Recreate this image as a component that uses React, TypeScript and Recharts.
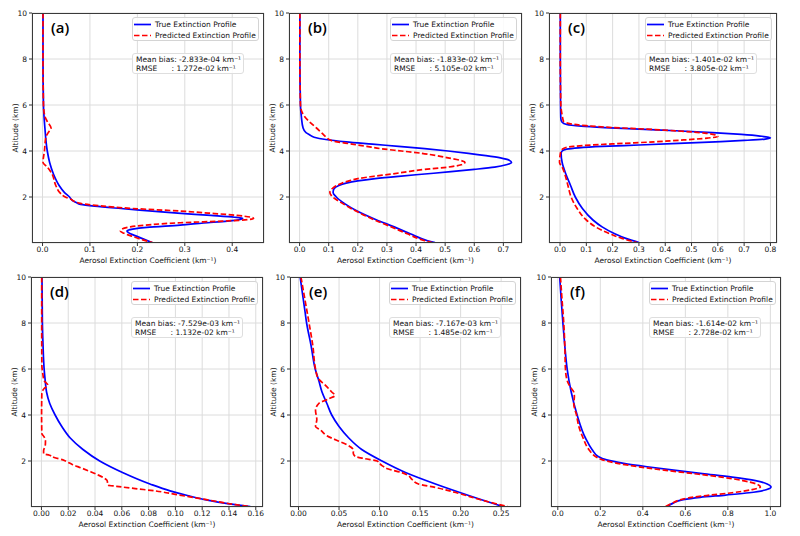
import React from "react";
import { LineChart, Line, XAxis, YAxis, CartesianGrid } from "recharts";

// each profile point is [altitude (km), extinction (km^-1)], top of the column first
type Pt = [number, number];

const trueA: Pt[] = [
  [10, 0.001], [8, 0.001], [6, 0.002], [5, 0.005], [4, 0.01], [3.5, 0.015], [3, 0.023],
  [2.5, 0.035], [2.2, 0.046], [2.0, 0.057], [1.85, 0.063], [1.75, 0.072], [1.68, 0.08],
  [1.6, 0.11], [1.5, 0.165], [1.4, 0.225], [1.3, 0.285], [1.2, 0.355], [1.12, 0.405],
  [1.07, 0.422], [1.02, 0.417], [0.95, 0.39], [0.87, 0.34], [0.78, 0.29], [0.68, 0.22],
  [0.6, 0.19], [0.52, 0.178], [0.44, 0.182], [0.32, 0.195], [0.18, 0.212], [0.02, 0.231],
];
const predA: Pt[] = [
  [10, 0.001], [8, 0.001], [6, 0.002], [5.5, 0.005], [5.25, 0.011], [5.0, 0.018], [4.8, 0.012],
  [4.6, 0.007], [4.0, 0.004], [3.5, 0.001], [3.3, 0.01], [3.0, 0.02], [2.5, 0.028], [2.2, 0.036],
  [2.0, 0.048], [1.9, 0.06], [1.8, 0.068], [1.72, 0.08], [1.62, 0.12], [1.5, 0.19], [1.39, 0.29],
  [1.3, 0.35], [1.2, 0.41], [1.12, 0.44], [1.07, 0.445], [1.02, 0.435], [0.96, 0.39],
  [0.88, 0.29], [0.8, 0.23], [0.7, 0.185], [0.6, 0.167], [0.52, 0.164], [0.42, 0.172],
  [0.3, 0.188], [0.16, 0.208], [0.02, 0.232],
];

const trueB: Pt[] = [
  [10, 0.001], [8, 0.001], [6, 0.003], [5.5, 0.006], [5.0, 0.012], [4.8, 0.022], [4.7, 0.035],
  [4.6, 0.05], [4.5, 0.09], [4.4, 0.16], [4.3, 0.25], [4.2, 0.34], [4.1, 0.43], [4.0, 0.51],
  [3.9, 0.58], [3.8, 0.64], [3.7, 0.69], [3.6, 0.72], [3.5, 0.728], [3.4, 0.71], [3.3, 0.67],
  [3.2, 0.6], [3.1, 0.52], [3.0, 0.43], [2.9, 0.34], [2.8, 0.26], [2.7, 0.2], [2.6, 0.16],
  [2.5, 0.135], [2.35, 0.118], [2.2, 0.115], [2.0, 0.126], [1.7, 0.156], [1.4, 0.196],
  [1.0, 0.265], [0.7, 0.325], [0.4, 0.38], [0.1, 0.44], [0.02, 0.465],
];
const predB: Pt[] = [
  [10, 0.001], [8, 0.001], [6, 0.003], [5.7, 0.008], [5.5, 0.017], [5.2, 0.04], [5.0, 0.058],
  [4.8, 0.075], [4.6, 0.092], [4.45, 0.11], [4.3, 0.18], [4.2, 0.23], [4.1, 0.28], [4.0, 0.35],
  [3.9, 0.42], [3.8, 0.47], [3.7, 0.51], [3.6, 0.55], [3.5, 0.568], [3.4, 0.555], [3.3, 0.51],
  [3.2, 0.43], [3.1, 0.37], [3.0, 0.317], [2.9, 0.255], [2.8, 0.2], [2.7, 0.17], [2.6, 0.145],
  [2.4, 0.115], [2.2, 0.104], [2.05, 0.11], [1.7, 0.15], [1.3, 0.207], [1.0, 0.258],
  [0.7, 0.315], [0.4, 0.37], [0.1, 0.43], [0.02, 0.455],
];

const trueC: Pt[] = [
  [10, 0.001], [8, 0.001], [6, 0.002], [5.4, 0.003], [5.25, 0.008], [5.15, 0.025], [5.08, 0.08],
  [5.02, 0.17], [4.95, 0.3], [4.88, 0.44], [4.8, 0.58], [4.72, 0.69], [4.65, 0.76], [4.58, 0.8],
  [4.52, 0.78], [4.46, 0.7], [4.4, 0.59], [4.33, 0.45], [4.26, 0.3], [4.2, 0.16], [4.14, 0.07],
  [4.08, 0.025], [4.0, 0.008], [3.9, 0.004], [3.5, 0.008], [3.0, 0.022], [2.5, 0.04],
  [2.0, 0.058], [1.5, 0.085], [1.0, 0.125], [0.7, 0.16], [0.4, 0.208], [0.2, 0.25], [0.02, 0.3],
];
const predC: Pt[] = [
  [10, 0.001], [8, 0.001], [6, 0.003], [5.5, 0.009], [5.3, 0.013], [5.18, 0.04], [5.1, 0.1],
  [5.02, 0.2], [4.95, 0.33], [4.87, 0.45], [4.78, 0.55], [4.7, 0.59], [4.63, 0.6], [4.56, 0.56],
  [4.48, 0.47], [4.4, 0.36], [4.33, 0.24], [4.26, 0.12], [4.2, 0.05], [4.12, 0.015],
  [4.02, 0.005], [3.8, 0.0], [3.5, -0.002], [3.3, 0.008], [3.0, 0.018], [2.5, 0.03],
  [2.0, 0.042], [1.5, 0.065], [1.0, 0.1], [0.7, 0.135], [0.4, 0.19], [0.2, 0.235], [0.02, 0.292],
];

const trueD: Pt[] = [
  [10, 0.0004], [8, 0.0007], [7, 0.0012], [6, 0.002], [5.5, 0.0028], [5, 0.0038], [4.5, 0.0062],
  [4, 0.0102], [3.5, 0.0152], [3, 0.0215], [2.5, 0.031], [2, 0.0435], [1.5, 0.0605],
  [1, 0.081], [0.7, 0.096], [0.5, 0.109], [0.3, 0.124], [0.15, 0.139], [0.02, 0.156],
];
const predD: Pt[] = [
  [10, 0.0002], [8, 0.0002], [6.2, 0.0003], [5.8, 0.001], [5.5, 0.002], [5.3, 0.0048],
  [5.15, 0.002], [4.95, 0.0003], [4, 0.0001], [3.2, 0.0003], [3.05, 0.002], [2.85, 0.003],
  [2.65, 0.0028], [2.45, 0.0016], [2.32, 0.0016], [2.25, 0.006], [2.15, 0.0095], [2.05, 0.016],
  [1.95, 0.0196], [1.85, 0.023], [1.7, 0.0296], [1.55, 0.036], [1.4, 0.042], [1.25, 0.047],
  [1.15, 0.049], [0.95, 0.0497], [0.9, 0.056], [0.8, 0.07], [0.7, 0.085], [0.55, 0.1],
  [0.4, 0.115], [0.25, 0.13], [0.1, 0.145], [0.02, 0.156],
];

const trueE: Pt[] = [
  [10, 0.002], [9.5, 0.004], [9, 0.006], [8.5, 0.008], [8, 0.01], [7, 0.0156], [6, 0.0206],
  [5.5, 0.025], [5, 0.029], [4.5, 0.035], [4, 0.041], [3.5, 0.05], [3, 0.062], [2.5, 0.078],
  [2, 0.103], [1.5, 0.132], [1.0, 0.169], [0.5, 0.21], [0.02, 0.252],
];
const predE: Pt[] = [
  [10, 0.003], [9, 0.008], [8, 0.013], [7, 0.0177], [6, 0.021], [5.6, 0.024], [5.3, 0.033],
  [5.0, 0.041], [4.85, 0.045], [4.7, 0.037], [4.5, 0.025], [4.2, 0.021], [3.8, 0.0226],
  [3.5, 0.021], [3.35, 0.027], [3.1, 0.035], [2.9, 0.047], [2.7, 0.06], [2.45, 0.068],
  [2.35, 0.0675], [2.2, 0.07], [2.1, 0.082], [2.0, 0.097], [1.9, 0.1], [1.8, 0.103],
  [1.65, 0.111], [1.5, 0.127], [1.35, 0.136], [1.2, 0.14], [1.0, 0.148], [0.85, 0.169],
  [0.6, 0.197], [0.3, 0.226], [0.02, 0.258],
];

const trueF: Pt[] = [
  [10, 0.009], [9, 0.016], [8, 0.024], [7, 0.033], [6, 0.044], [5, 0.063], [4, 0.091],
  [3, 0.13], [2.5, 0.161], [2.2, 0.19], [2.05, 0.23], [1.9, 0.31], [1.75, 0.42], [1.6, 0.545],
  [1.45, 0.68], [1.3, 0.82], [1.15, 0.93], [1.0, 0.985], [0.87, 1.003], [0.75, 0.98],
  [0.62, 0.9], [0.52, 0.79], [0.42, 0.67], [0.32, 0.59], [0.18, 0.545], [0.02, 0.514],
];
const predF: Pt[] = [
  [10, 0.0125], [9, 0.02], [8, 0.028], [7, 0.033], [6, 0.036], [5.5, 0.044], [5.2, 0.06],
  [5.0, 0.075], [4.8, 0.078], [4.5, 0.075], [4.0, 0.088], [3.5, 0.099], [3.0, 0.119],
  [2.5, 0.146], [2.2, 0.177], [2.05, 0.21], [1.9, 0.28], [1.75, 0.38], [1.6, 0.5], [1.45, 0.64],
  [1.3, 0.77], [1.15, 0.87], [1.0, 0.935], [0.87, 0.953], [0.75, 0.91], [0.62, 0.82],
  [0.52, 0.72], [0.42, 0.63], [0.3, 0.572], [0.15, 0.535], [0.02, 0.506],
];

const panelTags = ["(a)", "(b)", "(c)", "(d)", "(e)", "(f)"];
const meanBias = ["-2.833e-04", "-1.833e-02", "-1.401e-02", "-7.529e-03", "-7.167e-03", "-1.614e-02"];
const rmseVals = ["1.272e-02", "5.105e-02", "3.805e-02", "1.132e-02", "1.485e-02", "2.728e-02"];

const xTicksA = [0, 0.1, 0.2, 0.3, 0.4];
const xTicksB = [0, 0.1, 0.2, 0.3, 0.4, 0.5, 0.6, 0.7];
const xTicksC = [0, 0.1, 0.2, 0.3, 0.4, 0.5, 0.6, 0.7, 0.8];
const xTicksD = [0, 0.02, 0.04, 0.06, 0.08, 0.1, 0.12, 0.14, 0.16];
const xTicksE = [0, 0.05, 0.1, 0.15, 0.2, 0.25];
const xTicksF = [0, 0.2, 0.4, 0.6, 0.8, 1.0];
const altTicks = [2, 4, 6, 8, 10];

type Panel = {
  truth: Pt[];
  pred: Pt[];
  xTicks: number[];
  digits: number;
  xDomain: [number, number];
  left: number;
  top: number;
  width: number;
  height: number;
};

const panels: Panel[] = [
  { truth: trueA, pred: predA, xTicks: xTicksA, digits: 1, xDomain: [-0.0222, 0.467], left: 32, top: 13, width: 232, height: 230 },
  { truth: trueB, pred: predB, xTicks: xTicksB, digits: 1, xDomain: [-0.0364, 0.764], left: 289, top: 13, width: 233, height: 230 },
  { truth: trueC, pred: predC, xTicks: xTicksC, digits: 1, xDomain: [-0.042, 0.825], left: 549, top: 13, width: 228, height: 230 },
  { truth: trueD, pred: predD, xTicks: xTicksD, digits: 2, xDomain: [-0.0078, 0.1654], left: 31, top: 277, width: 232, height: 230 },
  { truth: trueE, pred: predE, xTicks: xTicksE, digits: 2, xDomain: [-0.0105, 0.2745], left: 290, top: 277, width: 231, height: 230 },
  { truth: trueF, pred: predF, xTicks: xTicksF, digits: 1, xDomain: [-0.032, 1.05], left: 551, top: 277, width: 230, height: 230 },
];

const Y_W = 32;
const PAD = 8;
const X_H = 26;
const FONT = "'DejaVu Sans', Verdana, sans-serif";
const TEXT = "#111";
const DASH = "5.5 2.5";

const toRows = (pts: Pt[]) => pts.map(([alt, v]) => ({ alt, v }));

function LegendRow({ color, dash, text }: { color: string; dash?: string; text: string }) {
  return (
    <div style={{ display: "flex", alignItems: "center", height: 11 }}>
      <svg width={22} height={11} style={{ flex: "none" }}>
        <line x1={1} y1={5.5} x2={18} y2={5.5} stroke={color} strokeWidth={1.7} strokeDasharray={dash} />
      </svg>
      <span>{text}</span>
    </div>
  );
}

function ProfilePanel({ p, idx }: { p: Panel; idx: number }) {
  const w = Y_W + p.width + PAD;
  const h = PAD + p.height + X_H;
  const legendW = 127;
  const legendLeft = Y_W + p.width - 5 - legendW;

  return (
    <div style={{ position: "absolute", left: p.left - Y_W, top: p.top - PAD, width: w, height: h, fontFamily: FONT, color: TEXT }}>
      <LineChart layout="vertical" width={w} height={h} margin={{ top: PAD, right: PAD, left: 0, bottom: 0 }}>
        <CartesianGrid stroke="#dcdcdc" strokeWidth={1} />
        <XAxis
          type="number"
          domain={p.xDomain}
          ticks={p.xTicks}
          interval={0}
          allowDataOverflow
          height={X_H}
          axisLine={false}
          tickSize={3}
          tickMargin={1}
          tickLine={{ stroke: "#333" }}
          tick={{ fontSize: 7.5, fill: TEXT }}
          tickFormatter={(v: number) => v.toFixed(p.digits)}
          label={{ value: "Aerosol Extinction Coefficient (km⁻¹)", position: "insideBottom", offset: 6, fontSize: 7.5, fill: TEXT }}
        />
        <YAxis
          type="number"
          dataKey="alt"
          domain={[0, 10]}
          ticks={altTicks}
          interval={0}
          reversed
          allowDataOverflow
          width={Y_W}
          axisLine={false}
          tickSize={3}
          tickMargin={2}
          tickLine={{ stroke: "#333" }}
          tick={{ fontSize: 7.5, fill: TEXT }}
          label={{ value: "Altitude (km)", angle: -90, position: "insideLeft", offset: 15, fontSize: 7.5, fill: TEXT, style: { textAnchor: "middle" } }}
        />
        <Line
          data={toRows(p.truth)}
          dataKey="v"
          type="monotoneY"
          stroke="#0000ff"
          strokeWidth={1.7}
          dot={false}
          isAnimationActive={false}
        />
        <Line
          data={toRows(p.pred)}
          dataKey="v"
          type="monotoneY"
          stroke="#ff0000"
          strokeWidth={1.7}
          strokeDasharray={DASH}
          dot={false}
          isAnimationActive={false}
        />
      </LineChart>

      {/* axes frame */}
      <div style={{ position: "absolute", left: Y_W, top: PAD, width: p.width, height: p.height, border: "1px solid #3a3a3a", boxSizing: "border-box", pointerEvents: "none" }} />

      <div style={{ position: "absolute", left: Y_W + 19, top: PAD + 5, fontFamily: "'Open Sans', sans-serif", fontWeight: 600, fontSize: 15, lineHeight: "18px", color: "#000" }}>
        {panelTags[idx]}
      </div>

      <div style={{ position: "absolute", left: legendLeft, top: PAD + 4, width: legendW, height: 24, boxSizing: "border-box", border: "1px solid #d4d4d4", borderRadius: 3, background: "rgba(255,255,255,0.85)", fontSize: 7.5, paddingTop: 0.5, whiteSpace: "nowrap" }}>
        <LegendRow color="#0000ff" text="True Extinction Profile" />
        <LegendRow color="#ff0000" dash={DASH} text="Predicted Extinction Profile" />
      </div>

      <div style={{ position: "absolute", left: legendLeft, top: PAD + 40, width: 112, height: 21, boxSizing: "border-box", border: "1px solid #dedede", borderRadius: 3, background: "rgba(255,255,255,0.85)", fontSize: 7.5, lineHeight: "9.5px", padding: "0.5px 3px", whiteSpace: "pre" }}>
        <div>{`Mean bias: ${meanBias[idx]} km⁻¹`}</div>
        <div>{`RMSE      : ${rmseVals[idx]} km⁻¹`}</div>
      </div>
    </div>
  );
}

export default function App() {
  return (
    <div style={{ position: "fixed", left: 0, top: 0, width: 800, height: 536, background: "#fff", overflow: "hidden" }}>
      {panels.map((p, i) => (
        <ProfilePanel key={i} p={p} idx={i} />
      ))}
    </div>
  );
}
